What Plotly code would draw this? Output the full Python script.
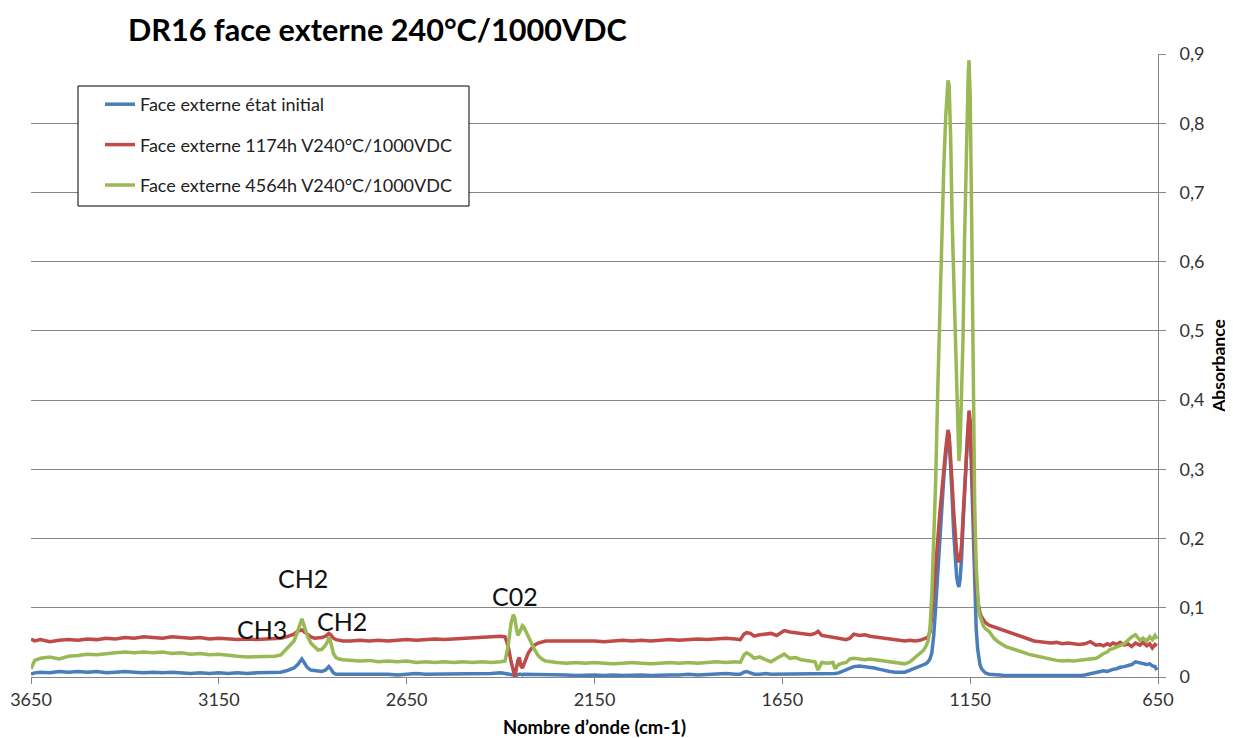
import plotly.graph_objects as go

# Wavenumber grid (cm-1), shared by the three spectra
wavenumber = [
    3650, 3640, 3625, 3600, 3575, 3550, 3525, 3500, 3475, 3450,
    3425, 3400, 3375, 3350, 3325, 3300, 3275, 3250, 3225, 3200,
    3175, 3150, 3125, 3100, 3075, 3050, 3025, 3000,
    2985, 2970, 2960, 2950, 2940, 2933, 2929, 2924, 2915, 2905,
    2895, 2886, 2876, 2866, 2860, 2857, 2852, 2845, 2838, 2830,
    2820,
    2800, 2775, 2750, 2725, 2700, 2675, 2650, 2625, 2600, 2575,
    2550, 2525, 2500, 2475, 2450, 2425, 2400,
    2388, 2380, 2372, 2366, 2362, 2358, 2354, 2350, 2346, 2342,
    2338, 2333, 2326, 2318, 2310, 2300, 2290, 2280, 2270,
    2250, 2225, 2200, 2175, 2150, 2125, 2100, 2075, 2050, 2025,
    2000, 1975, 1950, 1925, 1900, 1875, 1850, 1825, 1800, 1775,
    1762, 1752, 1745, 1735, 1725, 1710, 1695, 1680, 1665, 1655,
    1645, 1630, 1615, 1600, 1590, 1575, 1563, 1555, 1545, 1530,
    1515, 1510, 1500, 1490, 1480, 1470, 1460, 1445, 1430, 1417,
    1405, 1390, 1375, 1364, 1350, 1337, 1324, 1310, 1297,
    1284, 1275, 1268, 1262, 1257, 1252, 1247, 1242, 1236, 1231,
    1226, 1220, 1215, 1211, 1209, 1206, 1202, 1198, 1194, 1190,
    1186, 1183, 1180, 1177, 1173, 1169, 1165, 1161, 1157, 1155,
    1153, 1150, 1146, 1142, 1138, 1134, 1130, 1127, 1124, 1120,
    1115, 1110, 1100,
    1085, 1071, 1055, 1040, 1025, 1010, 995, 980, 964, 950,
    935, 920, 905, 890, 875, 860, 845, 830, 815, 805,
    795, 785, 778, 770, 760, 751, 740, 730, 720, 710,
    698, 690, 680, 672, 665, 658, 653,
]

# Face externe état initial
absorb_initial = [
    0.004, 0.006, 0.007, 0.006, 0.008, 0.007, 0.008, 0.007, 0.008, 0.006,
    0.007, 0.008, 0.007, 0.006, 0.007, 0.006, 0.007, 0.006, 0.005, 0.006,
    0.005, 0.006, 0.005, 0.006, 0.005, 0.006, 0.006, 0.007,
    0.007, 0.009, 0.011, 0.013, 0.018, 0.023, 0.026, 0.022, 0.014, 0.010,
    0.009, 0.008, 0.008, 0.010, 0.013, 0.015, 0.012, 0.006, 0.004, 0.004,
    0.004,
    0.004, 0.005, 0.004, 0.005, 0.004, 0.003, 0.004, 0.005, 0.004, 0.004,
    0.005, 0.004, 0.005, 0.004, 0.005, 0.005, 0.006,
    0.005, 0.005, 0.004, 0.003, 0.002, 0.003, 0.004, 0.004, 0.004, 0.003,
    0.004, 0.004, 0.003, 0.004, 0.003, 0.004, 0.003, 0.004, 0.003,
    0.003, 0.003, 0.002, 0.003, 0.003, 0.002, 0.003, 0.002, 0.003, 0.003,
    0.002, 0.003, 0.003, 0.003, 0.004, 0.003, 0.004, 0.004, 0.005, 0.004,
    0.004, 0.007, 0.008, 0.006, 0.004, 0.004, 0.005, 0.004, 0.004, 0.005,
    0.004, 0.004, 0.005, 0.004, 0.004, 0.005, 0.004, 0.005, 0.004, 0.005,
    0.005, 0.005, 0.006, 0.008, 0.010, 0.013, 0.015, 0.016, 0.015, 0.014,
    0.013, 0.011, 0.009, 0.008, 0.007, 0.007, 0.007, 0.010, 0.013,
    0.016, 0.018, 0.019, 0.022, 0.026, 0.035, 0.060, 0.100, 0.150, 0.200,
    0.250, 0.290, 0.320, 0.340, 0.350, 0.345, 0.310, 0.260, 0.210, 0.170,
    0.145, 0.135, 0.130, 0.140, 0.170, 0.220, 0.270, 0.310, 0.350, 0.365,
    0.375, 0.360, 0.290, 0.200, 0.120, 0.070, 0.040, 0.027, 0.018, 0.012,
    0.008, 0.006, 0.004,
    0.004, 0.003, 0.002, 0.002, 0.002, 0.001, 0.002, 0.002, 0.001, 0.002,
    0.001, 0.002, 0.002, 0.001, 0.002, 0.002, 0.003, 0.005, 0.006, 0.008,
    0.009, 0.008, 0.010, 0.011, 0.012, 0.014, 0.015, 0.016, 0.018, 0.022,
    0.020, 0.019, 0.018, 0.019, 0.016, 0.015, 0.010,
]

# Face externe 1174h V240°C/1000VDC
absorb_1174h = [
    0.055, 0.052, 0.054, 0.051, 0.053, 0.054, 0.053, 0.055, 0.054, 0.056,
    0.055, 0.057, 0.056, 0.058, 0.057, 0.056, 0.058, 0.057, 0.056, 0.057,
    0.055, 0.056, 0.055, 0.054, 0.055, 0.054, 0.055, 0.055,
    0.056, 0.058, 0.060, 0.062, 0.066, 0.068, 0.068, 0.066, 0.062, 0.058,
    0.056, 0.056, 0.057, 0.059, 0.062, 0.063, 0.061, 0.056, 0.054, 0.053,
    0.052,
    0.052, 0.053, 0.052, 0.053, 0.052, 0.053, 0.054, 0.053, 0.054, 0.055,
    0.054, 0.055, 0.056, 0.056, 0.057, 0.058, 0.059,
    0.058, 0.045, 0.022, 0.006, 0.001, 0.012, 0.024, 0.028, 0.016, 0.013,
    0.018, 0.026, 0.035, 0.041, 0.046, 0.049, 0.051, 0.052, 0.052,
    0.052, 0.053, 0.052, 0.053, 0.052, 0.051, 0.052, 0.053, 0.052, 0.053,
    0.052, 0.053, 0.054, 0.053, 0.054, 0.055, 0.054, 0.055, 0.056, 0.055,
    0.054, 0.062, 0.064, 0.063, 0.059, 0.061, 0.062, 0.063, 0.060, 0.064,
    0.067, 0.065, 0.064, 0.063, 0.062, 0.061, 0.063, 0.066, 0.060, 0.059,
    0.058, 0.057, 0.056, 0.055, 0.054, 0.056, 0.062, 0.060, 0.061, 0.059,
    0.058, 0.057, 0.056, 0.055, 0.054, 0.053, 0.052, 0.053, 0.052,
    0.053, 0.054, 0.056, 0.058, 0.065, 0.090, 0.130, 0.165, 0.200, 0.235,
    0.270, 0.300, 0.330, 0.350, 0.357, 0.350, 0.320, 0.280, 0.240, 0.200,
    0.180, 0.170, 0.166, 0.170, 0.190, 0.230, 0.270, 0.310, 0.350, 0.375,
    0.385, 0.370, 0.310, 0.250, 0.190, 0.140, 0.110, 0.100, 0.093, 0.087,
    0.082, 0.079, 0.075,
    0.072, 0.069, 0.066, 0.064, 0.061, 0.057, 0.054, 0.052, 0.051, 0.050,
    0.049, 0.050, 0.048, 0.049, 0.048, 0.047, 0.048, 0.051, 0.046, 0.047,
    0.045, 0.048, 0.046, 0.049, 0.047, 0.050, 0.046, 0.048, 0.044, 0.049,
    0.046, 0.050, 0.045, 0.048, 0.042, 0.047, 0.045,
]

# Face externe 4564h V240°C/1000VDC
absorb_4564h = [
    0.012, 0.024, 0.027, 0.029, 0.026, 0.030, 0.031, 0.033, 0.032, 0.034,
    0.035, 0.036, 0.035, 0.036, 0.035, 0.036, 0.034, 0.035, 0.033, 0.034,
    0.032, 0.033, 0.031, 0.030, 0.029, 0.029, 0.030, 0.030,
    0.032, 0.040, 0.046, 0.052, 0.066, 0.078, 0.084, 0.076, 0.060, 0.049,
    0.043, 0.039, 0.040, 0.046, 0.052, 0.058, 0.050, 0.034, 0.028, 0.026,
    0.025,
    0.024, 0.023, 0.024, 0.022, 0.023, 0.022, 0.023, 0.021, 0.022, 0.021,
    0.022, 0.021, 0.022, 0.021, 0.022, 0.021, 0.022,
    0.023, 0.045, 0.078, 0.090, 0.085, 0.070, 0.060, 0.064, 0.070, 0.074,
    0.072, 0.066, 0.058, 0.048, 0.040, 0.031, 0.026, 0.023, 0.022,
    0.021, 0.020, 0.021, 0.020, 0.021, 0.020, 0.019, 0.020, 0.021, 0.020,
    0.019, 0.020, 0.021, 0.020, 0.021, 0.020, 0.021, 0.022, 0.021, 0.022,
    0.021, 0.032, 0.035, 0.032, 0.027, 0.029, 0.025, 0.022, 0.027, 0.030,
    0.033, 0.027, 0.028, 0.025, 0.024, 0.023, 0.022, 0.010, 0.021, 0.020,
    0.021, 0.012, 0.018, 0.020, 0.021, 0.026, 0.027, 0.026, 0.025, 0.026,
    0.025, 0.024, 0.023, 0.022, 0.021, 0.020, 0.019, 0.022, 0.028,
    0.035, 0.038, 0.044, 0.052, 0.070, 0.120, 0.200, 0.280, 0.420, 0.520,
    0.640, 0.740, 0.810, 0.845, 0.862, 0.855, 0.780, 0.660, 0.580, 0.490,
    0.400, 0.350, 0.312, 0.330, 0.400, 0.490, 0.630, 0.750, 0.840, 0.875,
    0.891, 0.840, 0.660, 0.450, 0.250, 0.160, 0.110, 0.095, 0.088, 0.080,
    0.074, 0.070, 0.066,
    0.055, 0.049, 0.044, 0.041, 0.038, 0.035, 0.033, 0.031, 0.029, 0.027,
    0.025, 0.024, 0.023, 0.024, 0.023, 0.024, 0.025, 0.026, 0.027, 0.030,
    0.034, 0.036, 0.040, 0.041, 0.043, 0.045, 0.048, 0.053, 0.058, 0.061,
    0.053, 0.056, 0.052, 0.058, 0.054, 0.060, 0.055,
]

series_names = [
    "Face externe état initial",
    "Face externe 1174h V240°C/1000VDC",
    "Face externe 4564h V240°C/1000VDC",
]
series_colors = ["#4A7EBB", "#BE4B48", "#98B954"]

x_ticks = [3650, 3150, 2650, 2150, 1650, 1150, 650]
y_ticks = [0, 0.1, 0.2, 0.3, 0.4, 0.5, 0.6, 0.7, 0.8, 0.9]
y_ticktext = ["0", "0,1", "0,2", "0,3", "0,4", "0,5", "0,6", "0,7", "0,8", "0,9"]

# Band labels: (text, wavenumber, absorbance)
band_labels = [
    ("CH2", 2926, 0.143),
    ("CH3", 3035, 0.069),
    ("CH2", 2822, 0.081),
    ("C02", 2362, 0.117),
    ("C-F", 1185, 0.931),
]

FONT = "Lato, 'Open Sans', Arial, sans-serif"

# The page body has an 8 px margin: figure is sized so that it fills the window exactly.
W, H = 1225, 730
OFF = 8

fig = go.Figure()
for name, ys, col in zip(series_names, [absorb_initial, absorb_1174h, absorb_4564h], series_colors):
    fig.add_trace(go.Scatter(
        x=wavenumber, y=ys, mode="lines", name=name, legendgroup=name,
        line=dict(color=col, width=3.5),
    ))

for txt, xv, yv in band_labels:
    fig.add_annotation(x=xv, y=yv, xref="x", yref="y", text=txt, showarrow=False,
                       font=dict(family=FONT, size=25, color="#111111"))

# legend frame
fig.add_shape(type="rect", xref="paper", yref="paper",
              x0=(78 - 31) / 1127, x1=(469 - 31) / 1127,
              y0=(677 - 206) / 623, y1=(677 - 86) / 623,
              line=dict(color="#000000", width=1), fillcolor="white", layer="above")

fig.update_layout(
    width=W, height=H,
    margin=dict(l=31 - OFF, r=75, t=54 - OFF, b=61, autoexpand=False),
    paper_bgcolor="white", plot_bgcolor="white",
    font=dict(family=FONT, color="#333333"),
    title=dict(text="<b>DR16 face externe 240°C/1000VDC</b>",
               x=(128 - OFF) / W, xanchor="left", xref="container",
               y=1 - (30 - OFF) / H, yanchor="middle", yref="container",
               font=dict(family=FONT, size=30.6, color="#000000")),
    showlegend=True,
    legend=dict(x=(100 - 31) / 1127, y=(677 - 86) / 623, xanchor="left", yanchor="top",
                bgcolor="rgba(0,0,0,0)", borderwidth=0,
                font=dict(family=FONT, size=18, color="#222222"),
                tracegroupgap=14),
    xaxis=dict(range=[3650, 650], tickvals=x_ticks, ticks="outside", ticklen=6,
               tickcolor="#868686", showline=True, linecolor="#868686", linewidth=1,
               showgrid=False, zeroline=False, automargin=False,
               tickfont=dict(family=FONT, size=18, color="#333333"),
               title=dict(text="<b>Nombre d’onde (cm-1)</b>", standoff=22,
                          font=dict(family=FONT, size=18.5, color="#000000"))),
    yaxis=dict(range=[0, 0.9], side="right", tickvals=y_ticks, ticktext=y_ticktext,
               ticks="outside", ticklen=7, tickcolor="#868686",
               showline=True, linecolor="#868686", linewidth=1,
               showgrid=True, gridcolor="#868686", gridwidth=1, zeroline=False,
               ticklabelstandoff=10, automargin=False,
               tickfont=dict(family=FONT, size=18, color="#333333"),
               title=dict(text="<b>Absorbance</b>", standoff=9,
                          font=dict(family=FONT, size=17.5, color="#000000"))),
)

fig.write_html("out.html")
